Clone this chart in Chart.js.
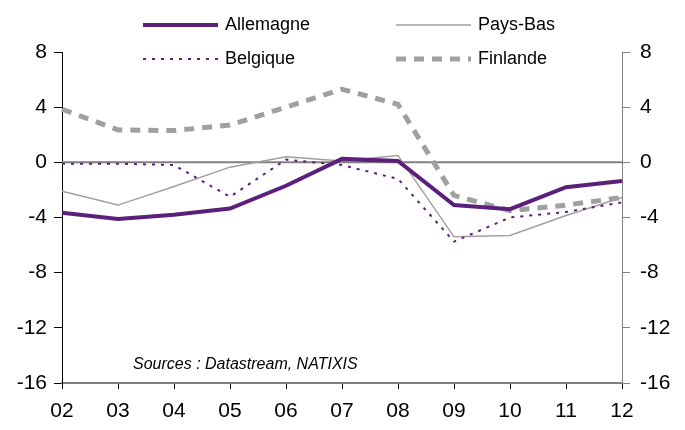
<!DOCTYPE html>
<html>
<head>
<meta charset="utf-8">
<script src="https://cdn.jsdelivr.net/npm/chart.js@4"></script>
<style>
  html, body { margin: 0; padding: 0; background: #fff; }
  #wrap { width: 685px; height: 430px; position: relative; }
</style>
</head>
<body>
<div id="wrap"><canvas id="chart"></canvas></div>
<script>
const years = ['02', '03', '04', '05', '06', '07', '08', '09', '10', '11', '12'];
const allemagne = [-3.65, -4.1, -3.8, -3.35, -1.7, 0.25, 0.1, -3.1, -3.4, -1.8, -1.35];
const paysBas   = [-2.1, -3.1, -1.75, -0.35, 0.4, 0.1, 0.5, -5.4, -5.3, -3.85, -2.55];
const belgique  = [-0.1, -0.1, -0.2, -2.5, 0.2, -0.2, -1.2, -5.75, -4.0, -3.6, -2.9];
const finlande  = [3.85, 2.35, 2.3, 2.7, 4.0, 5.3, 4.2, -2.4, -3.5, -3.1, -2.55];
const yTicks = [-16, -12, -8, -4, 0, 4, 8];

const PURPLE = '#5c1f7c';
const GREY = '#a0a0a0';
const FONT = 'Liberation Sans, Arial, sans-serif';

// legend entries: [label, color, width, dash, column, row]
const legendItems = [
  ['Allemagne', PURPLE, 4, [], 0, 0],
  ['Pays-Bas', GREY, 1.5, [], 1, 0],
  ['Belgique', PURPLE, 2, [3, 6], 0, 1],
  ['Finlande', GREY, 5, [10, 8], 1, 1]
];

const extrasPlugin = {
  id: 'extras',
  beforeDatasetsDraw(chart) {
    // zero line across the plot
    const { ctx, chartArea, scales: { y } } = chart;
    const y0 = y.getPixelForValue(0);
    ctx.save();
    ctx.strokeStyle = '#808080';
    ctx.lineWidth = 2;
    ctx.beginPath();
    ctx.moveTo(chartArea.left, y0);
    ctx.lineTo(chartArea.right, y0);
    ctx.stroke();
    ctx.restore();
  },
  afterDraw(chart) {
    const ctx = chart.ctx;
    ctx.save();
    const colX = [143, 396];
    const rowY = [25, 59];
    legendItems.forEach(([label, color, w, dash, c, r]) => {
      const x = colX[c], yy = rowY[r];
      ctx.strokeStyle = color;
      ctx.lineWidth = w;
      ctx.setLineDash(dash);
      ctx.beginPath();
      ctx.moveTo(x, yy);
      ctx.lineTo(x + 75, yy);
      ctx.stroke();
      ctx.setLineDash([]);
      ctx.fillStyle = '#000';
      ctx.font = '18px ' + FONT;
      ctx.textBaseline = 'middle';
      ctx.textAlign = 'left';
      ctx.fillText(label, x + 82, yy);
    });
    ctx.font = 'italic 16px ' + FONT;
    ctx.textBaseline = 'middle';
    ctx.fillText('Sources : Datastream, NATIXIS', 133, 365);
    ctx.restore();
  }
};

function mkSet(label, data, color, width, dash, order) {
  return {
    label, data,
    borderColor: color,
    backgroundColor: color,
    borderWidth: width,
    borderDash: dash,
    pointRadius: 0,
    tension: 0,
    yAxisID: 'y',
    order
  };
}

new Chart(document.getElementById('chart'), {
  type: 'line',
  data: {
    labels: years,
    datasets: [
      mkSet('Allemagne', allemagne, PURPLE, 4, [], 1),
      mkSet('Pays-Bas', paysBas, GREY, 1.5, [], 3),
      mkSet('Belgique', belgique, PURPLE, 2, [3, 6], 2),
      mkSet('Finlande', finlande, GREY, 5, [10, 8], 4)
    ]
  },
  options: {
    responsive: true,
    maintainAspectRatio: false,
    animation: false,
    layout: { padding: { top: 52, left: 0, right: 0, bottom: 0 } },
    plugins: { legend: { display: false }, tooltip: { enabled: false } },
    scales: {
      x: {
        offset: false,
        grid: { drawOnChartArea: false, tickLength: 6, color: '#000' },
        border: { color: '#808080', width: 2 },
        ticks: { color: '#000', font: { family: FONT, size: 21 }, padding: 10, maxRotation: 0 },
        afterFit(s) { s.height = 47; }
      },
      y: {
        position: 'left',
        min: -16, max: 8,
        afterBuildTicks(s) { s.ticks = yTicks.map(v => ({ value: v })); },
        grid: { drawOnChartArea: false, tickLength: 8, color: '#000' },
        border: { color: '#000', width: 1 },
        ticks: { color: '#000', font: { family: FONT, size: 21 }, padding: 7 },
        afterFit(s) { s.width = 62; }
      },
      y2: {
        position: 'right',
        min: -16, max: 8,
        afterBuildTicks(s) { s.ticks = yTicks.map(v => ({ value: v })); },
        grid: { drawOnChartArea: false, tickLength: 8, color: '#808080' },
        border: { color: '#808080', width: 1 },
        ticks: { color: '#000', font: { family: FONT, size: 21 }, padding: 10 },
        afterFit(s) { s.width = 63; }
      }
    }
  },
  plugins: [extrasPlugin]
});
</script>
</body>
</html>
